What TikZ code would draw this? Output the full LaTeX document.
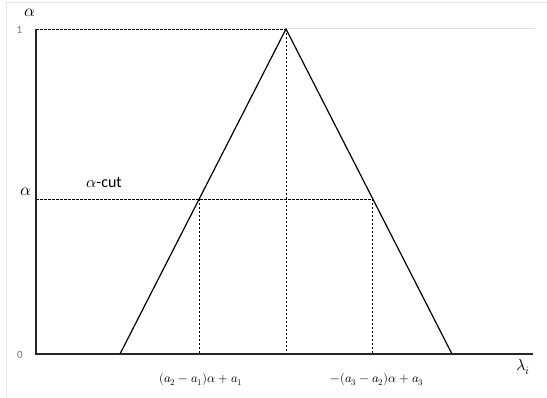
\documentclass[tikz,border=0pt]{standalone}
\usepackage{fontspec}
\setmainfont{Carlito}
\usepackage{unicode-math}
\setmathfont{Latin Modern Math}
\begin{document}
\begin{tikzpicture}[x=1pt,y=-1pt,
  axisline/.style={line width=1.3pt,draw=black!85},
  tri/.style={line width=1.2pt,draw=black},
  guide/.style={line width=0.7pt,dash pattern=on 2.5pt off 1.5pt,draw=black},
  tick/.style={text=black!55,font=\fontsize{11}{12}\selectfont,inner sep=0pt},
  lbl/.style={font=\fontsize{12.6}{14}\selectfont,inner sep=0pt},
  big/.style={font=\fontsize{17}{19}\selectfont,inner sep=0pt}]
\useasboundingbox (0,0) rectangle (547,398);
\draw[black!10,line width=1pt] (6,398) -- (6,2.5) -- (547,2.5);
% coordinates
\coordinate (O) at (36,354);
\coordinate (Ytop) at (36,29);
\coordinate (Xend) at (533,354);
\coordinate (A1) at (120,354);
\coordinate (A2) at (286,29);
\coordinate (A3) at (452,354);
\coordinate (Ya) at (36,199);
\coordinate (L) at (199.3,199);
\coordinate (R) at (372.7,199);
\coordinate (Lb) at (199.3,354);
\coordinate (Rb) at (372.7,354);
\coordinate (Mb) at (286,354);
\coordinate (Gend) at (535,29);
% light line right of apex
\draw[black!12,line width=1pt] (A2) -- (Gend);
% guides
\draw[guide] (Ytop) -- (A2);
\draw[guide] (A2) -- (Mb);
\draw[guide] (Ya) -- (R);
\draw[guide] (L) -- (Lb);
\draw[guide] (R) -- (Rb);
% axes
\draw[axisline] (Ytop) -- (O) -- (Xend);
% triangle
\draw[tri] (A1) -- (A2) -- (A3);
% labels
\node[big] (alphaTop) at (30,13) {$\alpha$};
\node[tick] (one) at (19.5,30) {1};
\node[tick] (zero) at (20,355) {0};
\node[big] (alphaMid) at (26,192) {$\alpha$};
\node[big,font=\fontsize{16}{18}\selectfont] (cut) at (104,183) {$\alpha$-cut};
\node[lbl] (left) at (201,379) {$(a_2-a_1)\alpha+a_1$};
\node[lbl] (right) at (377,379) {$-(a_3-a_2)\alpha+a_3$};
\node[big,font=\fontsize{16}{18}\selectfont] (lam) at (523,367) {$\lambda_i$};
\end{tikzpicture}
\end{document}
